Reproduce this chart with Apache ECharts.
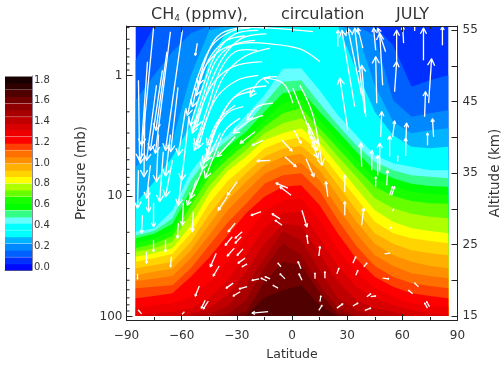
<!DOCTYPE html>
<html><head><meta charset="utf-8">
<style>html,body{margin:0;padding:0;background:#fff}#c{width:504px;height:365px}</style>
<script src="https://cdn.jsdelivr.net/npm/echarts@6/dist/echarts.min.js"></script></head>
<body><div id="c"></div>
<script>
// Latitudes of the data columns
const latitudes=[-85,-75,-65,-55,-45,-35,-25,-15,-5,5,15,25,35,45,55,65,75,85];
// Colour-bar values (ppmv) and colour of each band
const bandValues=[0,.06,.13,.19,.26,.32,.39,.45,.51,.58,.64,.71,.77,.84,.90,.96,1.03,1.09,1.16,1.22,1.29,1.35,1.41,1.48,1.54,1.61,1.67,1.74,1.80];
const bandColors=['#0008ff','#0030ff','#0060ff','#0088ff','#00b4ff','#00ffff','#00ffff','#66ffff','#33ff88','#00ff00','#18ff00','#66ff00','#b0ff00','#ffff00','#ffd400','#ffb000','#ff9000','#ff7000','#ff4000','#ff0000','#ee0000','#d80000','#c00000','#a80000','#900000','#700000','#500000','#300000','#180000'];
// Altitude (km) of the contour lines at each latitude; the ppmv of each is in contourPpmv
const contourPpmv=[.10,.16,.23,.29,.35,.42,.48,.55,.61,.68,.74,.80,.87,.93,1.00,1.06,1.13,1.19,1.25,1.32,1.38,1.45,1.51,1.58,1.64];
const c01=[50.8,56,56,56,56,56,56,56,56,56,56,56,56,55.6,52.9,47.1,48.0,48.7];
const c02=[45.2,48.7,52.0,54.6,56,56,56,56,56,56,56,56,56,54.3,45.2,42.9,43.4,43.8];
const c03=[35.9,38.2,39.6,48.7,55.0,56,56,56,56,56,56,56,55.0,47.3,42.2,40.6,41.0,41.3];
const c04=[30.8,33.8,37.3,41.7,50.8,55.0,56,56,56,56,56,55.6,49.4,43.6,40.3,38.7,38.5,38.7];
const c05=[28.7,30.5,33.5,38.2,44.5,48.0,52.2,55.3,56,56,55.0,52.2,46.6,41.7,38.9,37.5,37.1,37.1];
const c06=[26.8,27.3,29.8,35.2,38.5,40.3,43.1,45.9,49.6,49.7,46.6,43.1,40.3,37.5,36.4,35.9,35.4,35.4];
const c07=[26.3,26.9,28.7,34.0,37.5,39.6,41.7,44.8,47.8,48.0,44.8,41.7,38.9,36.6,35.4,34.7,34.5,34.3];
const c08=[25.9,26.5,27.9,32.6,36.4,38.7,40.8,43.6,46.2,46.6,43.6,40.8,38.0,35.4,34.3,33.5,33.2,33.1];
const c09=[25.2,25.8,27.0,31.7,35.4,37.8,39.9,42.4,44.8,45.4,42.4,39.6,36.8,34.3,33.1,32.4,32.1,31.9];
const c10=[24.5,25.1,26.2,30.5,34.5,37.0,39.1,41.5,43.4,44.1,41.3,38.5,35.7,33.1,31.8,31.1,30.8,30.7];
const c11=[24.0,24.5,25.4,29.3,33.2,36.1,38.2,40.6,42.0,42.7,40.3,37.3,34.5,31.5,30.1,29.3,28.9,28.7];
const c12=[23.3,23.8,24.5,27.7,32.2,35.3,37.3,39.6,40.6,41.3,39.2,36.1,32.9,29.8,28.2,27.3,26.9,26.6];
const c13=[22.6,23.1,23.7,26.6,30.8,33.9,36.1,38.5,39.5,40.1,38.0,34.7,31.5,28.2,26.6,25.9,25.5,25.2];
const c14=[21.7,22.1,22.6,25.4,29.2,32.5,35.0,37.3,38.4,38.8,36.7,33.3,29.8,26.6,25.1,24.2,23.8,23.5];
const c15=[20.7,21.2,21.6,24.2,27.8,31.2,33.8,36.1,37.3,37.7,35.4,31.8,28.2,25.1,23.5,22.6,22.0,21.7];
const c16=[19.9,20.2,20.6,23.1,26.3,29.8,32.4,34.9,36.1,36.4,34.0,30.1,26.5,23.5,22.0,21.0,20.6,20.3];
const c17=[18.9,19.1,19.3,21.7,24.9,28.1,30.7,33.5,34.7,35.0,32.5,28.4,24.8,22.0,20.5,19.6,19.2,18.9];
const c18=[17.5,17.8,18.2,20.5,23.2,26.3,29.4,31.7,33.1,33.3,30.5,26.5,23.0,20.5,19.1,18.2,17.8,17.5];
const c19=[16.1,16.5,16.8,17.7,19.8,22.6,26.3,29.6,31.2,31.5,28.4,24.2,21.2,18.9,17.7,16.8,16.4,16.3];
const c20=[15,15.4,15.6,16.1,17.5,20.0,23.5,27.3,29.4,29.6,25.9,22.0,19.1,17.5,16.5,15.8,15.4,15];
const c21=[15,15,15,15.3,16.1,17.9,21.2,25.1,27.9,27.6,23.7,19.8,17.2,16.1,15.6,15,15,15];
const c22=[15,15,15,15,15.3,16.4,19.3,23.1,26.9,25.6,21.4,17.5,15.8,15.1,15,15,15,15];
const c23=[15,15,15,15,15,15.3,17.2,21.7,25.2,23.5,19.3,16.1,15,15,15,15,15,15];
const c24=[15,15,15,15,15,15,15.6,19.8,22.6,22.1,18.3,15.3,15,15,15,15,15,15];
const c25=[15,15,15,15,15,15,15,17.6,18.6,19.3,16.5,15,15,15,15,15,15,15];
const contours=[c01,c02,c03,c04,c05,c06,c07,c08,c09,c10,c11,c12,c13,c14,c15,c16,c17,c18,c19,c20,c21,c22,c23,c24,c25];
// Circulation arrows: flat lists lat,km,lat,km,... from tail to head
const southDescending=[
[-75.3,55.3,-82.4,36.4],[-66.1,54.8,-74.3,37.8],[-59.6,55.0,-68.8,38.2],[-78.6,50.6,-81.8,38.9],[-83.5,48.0,-82.9,36.8],[-70.5,49.4,-77.0,38.2],[-73.7,47.3,-79.1,36.8],
[-83.5,35.4,-84.0,30.1],[-78,33.1,-78,29.6],[-75.3,30.8,-75.3,27.5],[-81.3,29.1,-81.8,26.6],[-75.3,25.6,-75.3,24.0],[-68.8,25.6,-68.8,24.0],[-79.1,24,-79.1,22.4],[-65.6,23.3,-66.1,21.9],
[-53.7,29.6,-54.2,26.8],[-59.1,30.8,-59.6,27.7],[-61.8,28,-62.3,25.9],[-59.6,35.4,-61.8,30.5],[-48.8,35.4,-55.3,31.5],[-52,34,-56.9,30.5],
[-66.1,40.4,-68.8,34.6],[-72.6,40.4,-73.7,33.8],[-58,43.8,-61.8,37.5],[-65,36.8,-68.8,31.7],[-77,36.1,-79.1,31.5],
[-68,52,-74,41],[-62,47,-66,38],[-80,44,-80.5,34.5],[-70,38,-72,31],[-56,43,-58,38.5,-60,34]];
const curvedStreams=[
[-22.8,55.3,-32.5,54.9,-43.4,52.9,-50.9,48.7,-56.9,43.1],[-18.4,55.0,-30.9,54.5,-40.7,52.0,-48.2,47.3,-55.3,41.7],[-20.1,53.6,-32.5,52.9,-41.7,50.6,-48.2,45.9,-54.2,41.0],
[-19,52.2,-30.9,52.0,-39,49.4,-45.5,44.5,-52.6,38.9],[15.2,50.6,4.3,52.4,-11.9,53.1,-26.6,53.2,-39,52.2,-48.2,49.4,-54.2,44.3],[11.4,54.8,-11.9,55.3,-29.8,55.3,-40.7,54.1,-47.2,50.8,-50.9,47.3],
[-16.3,50.6,-32,49.9,-42.8,47.6,-49.9,43.8,-54.2,40.6],[-18.4,48.7,-29.8,48,-40.7,45.7,-48.2,41.5,-53.1,38.2],[-26.6,44.3,-35.2,43.4,-42.8,40.6,-45.5,38.2,-48.2,36.4],
[-8.1,48.5,-17.3,48,-22.8,45.7],[-10.3,44.8,-19,44.3,-24.4,42.4],[-15.7,43.1,-22.8,42.4,-32,40.6],[0.5,44.8,-4.9,47.6,-15.7,48.3],[-28.2,42.7,-36.3,41,-42.3,37.5,-47.2,34.3],
[4.3,47.3,11.4,43.1,16.3,36.1],[0.5,46.9,7,42.7,13.6,38.2],[8.7,42,13.6,39.2],[-25.5,54.2,-36.3,53.5,-45.5,50.8,-52,45.9],[-30.9,44.5,-40.1,42.4,-46.1,38.9],[-39,40.6,-46.1,36.8],[-30.9,40.1,-40.7,37.3],[-51.5,53.2,-52.6,51.5],
[-14,54.5,-28,53.8,-38,51,-46,46.5,-52,41.5],[-12,52.5,-26,51.3,-37,48.6,-45,43.6,-51,38.5],[-14,47.2,-27,46.5,-37,43.8,-44,39.5,-49,35.5],[-20,46.5,-32,45.5,-40,42,-46,37.5]];
const domeArrows=[
[-15.7,39.6,-21.7,38.9],[-11.9,36.8,-19,36.7],[-3.8,37.3,2.2,35.9],[1.1,41,4.9,39.2],[-5.4,39.6,0,38.1],[7.6,37,11.9,34.5],[8.7,41,14.1,37.1],[-20.1,40.8,-28.2,39.2],[-29.8,33.8,-35.2,31.9],[-35.2,31.7,-40.1,29.8],
[-30.9,28,-34.7,26.8],[-32.5,26.1,-36.3,24.9],[-27.1,26.8,-30.9,25.9],[-27.6,26.1,-30.9,25.2],[-31.4,24.5,-35.2,23.4],[-26.6,24.4,-29.8,23.5],[-25.5,23.1,-29.3,22.4],[-24.4,22.3,-27.1,21.9],
[-41.2,23.8,-44.4,21.9],[-39.6,22,-42.8,20.6],[-32,19.6,-35.8,18.9],[-28.2,18.4,-32,17.8],[-24.4,19.1,-28.7,18.8],[-50.4,19.2,-52.6,17.8],[-47.2,17.2,-49.3,16.1],[-45.5,17.1,-48.2,16],
[-16.8,29.6,-22.2,29.1],[-17.9,20.2,-21.7,20],[-13.6,19.9,-16.8,20.3],[-11.9,20.2,-14.6,20.5],[-7.6,18.9,-10.3,19.3],[-6,21.9,-7.6,22.4],[-3.8,20.2,-6.5,20.9],[-6.5,28.6,-10.8,29.3],[-5.4,27.7,-9.2,28.4],[-2.2,32.9,-8.7,33.6],[-0.5,31.9,-6.5,33.1],
[4.9,21.6,3.3,22.6],[5.4,20,3.8,20.9],[12.5,20.2,12.5,21],[5.4,29.8,8.1,27.5],[8.7,25.1,8.1,26.3],[-13,15.6,-21.7,15.4],[-58.5,15.6,-59.6,15.3],[-81.8,15.3,-83.5,15.8],[-84,20.9,-84,20.2]];
const northLower=[
[19.5,31.7,18.4,33.8],[28.7,32.4,28.7,34.7],[28.7,29.1,28.7,31],[37.9,27.7,39,30.1],[45.5,33.1,45.5,34.5],[51.5,33.3,52,35.4],[53.1,31.9,54.7,33.1],[54.2,31.9,55.8,33.1],[54.7,29.7,55.3,30],[53.1,27.2,54.2,27.5],
[50.4,23.7,53.1,23.8],[33.1,22.4,34.7,23.3],[34.7,20.7,35.8,21.4],[39,21.9,40.7,22.4],[49.3,20.3,52.6,20.2],[68.8,19.1,66.7,19.6],[65.6,18.1,63.4,18.6],[40.7,17.7,42.8,18.1],[42.8,17.7,45.5,17.8],[73.7,16.1,72.1,16.8],[74.8,16.3,73.2,17],
[33.1,16.4,35.8,16.8],[24.4,16.1,27.6,16.7],[39.6,15.8,42.8,16.1],[14.6,15.8,16.3,16.5],[15.2,17,15.7,17.8],[24.4,20.9,25.5,21.7],[17.9,20.3,17.9,21.2],[14.6,23.4,15.2,24.7]];
const northAscending=[
[56.9,50.6,56.9,55],[55.8,46.4,56.9,50.6],[74.3,44.8,75.9,51],[72.1,42.9,72.6,46.4],[46.1,44.8,45.5,51.3],[40.1,42.9,37.9,50.1],[30.4,41,26,48.3],[48.2,40.1,48.8,43.6],[77,40.1,76.4,42.6],[61.8,38.7,62.3,42],[54.7,40.1,55.8,42.3],[73.7,38.9,73.7,40.6],
[53.1,37.3,53.1,40.2],[61.8,37.4,61.8,39.9],[37.9,35.9,37.4,39.2],[47.7,35.4,47.7,39.2],[43.4,35.4,43.4,38.2],[46.6,34.7,46.6,37.5],[57.5,36.6,57.5,37.4],
[24.9,52.7,24.9,55],[34.1,44.3,27.1,55],[37.9,45.9,30.4,55.3],[39.6,43.4,34.1,55.3],[38.5,52.5,35.8,55.3],[45.5,52.2,44.4,55.3],[50.9,52,46.6,55.3],[49.3,47.3,47.7,54.6],[60.7,53.2,60.2,55.5],[71.5,50.8,71.5,55.3],[81.8,52.9,81.8,55.5],[66.7,54.9,66.7,55.5]];
const allArrows=[...southDescending,...curvedStreams,...domeArrows,...northLower,...northAscending];
// Axis ticks
const latTicks={min:-90,max:90,step:30};
const altLabels=[15,25,35,45,55];
const altTicks=[15,20,25,30,35,40,45,50,55];
const pressureLabels=[1,10,100];
const pressureMinor=[.4,.5,.6,.7,.8,.9,2,3,4,5,6,7,8,9,20,30,40,50,60,70,80,90];
const titleParts=['CH','4',' (ppmv),','circulation','JULY'];
const names={x:'Latitude',p:'Pressure (mb)',a:'Altitude (km)'};

const FONT='"DejaVu Sans"',INK='#333',KMTOP=55.6;
const chart=echarts.init(document.getElementById('c'),null,{renderer:'canvas'});
function bandPolygon(k,api){
  const a=contours[k],top=[];
  latitudes.forEach((lat,i)=>top.push(api.coord([lat,Math.min(a[i],KMTOP)])));
  top.push(api.coord([85,15]),api.coord([-85,15]));
  return {type:'polygon',shape:{points:top},style:{fill:bandColors[k+2]},silent:true};
}
function arrowShape(pts){
  const n=pts.length,h=pts[n-1],p=pts[n-2];
  let total=0;for(let i=1;i<n;i++)total+=Math.hypot(pts[i][0]-pts[i-1][0],pts[i][1]-pts[i-1][1]);
  const L=Math.min(7.5,total*.2),ang=Math.atan2(h[1]-p[1],h[0]-p[0]),s=.5;
  return [[h[0]-L*Math.cos(ang-s),h[1]-L*Math.sin(ang-s)],h,[h[0]-L*Math.cos(ang+s),h[1]-L*Math.sin(ang+s)]];
}
chart.setOption({
 animation:false,backgroundColor:'#fff',
 title:[
  {left:151,top:7,padding:0,text:'{a|'+titleParts[0]+'}{s|'+titleParts[1]+'}{a|'+titleParts[2]+'}',textStyle:{fontWeight:'normal',rich:{a:{fontFamily:FONT,fontSize:16,fontWeight:'normal',color:INK},s:{fontFamily:FONT,fontSize:9,fontWeight:'normal',color:INK,verticalAlign:'bottom',padding:[6,0,0,0]}}}},
  {left:281,top:7,padding:0,text:titleParts[3],textStyle:{fontFamily:FONT,fontSize:16,fontWeight:'normal',color:INK}},
  {left:396,top:7,padding:0,text:titleParts[4],textStyle:{fontFamily:FONT,fontSize:16,fontWeight:'normal',color:INK}}
 ],
 grid:[{left:126.5,width:331,top:26,height:294,outerBoundsMode:'none'},{left:5,width:27,top:76,height:194,outerBoundsMode:'none'}],
 xAxis:[
  {gridIndex:0,type:'value',min:latTicks.min,max:latTicks.max,interval:latTicks.step,position:'bottom',z:5,
   name:names.x,nameLocation:'middle',nameGap:28,nameTextStyle:{fontFamily:FONT,fontSize:12.5,color:INK},
   axisLine:{onZero:false,lineStyle:{color:'#222',width:1}},splitLine:{show:false},
   axisTick:{inside:true,length:6,lineStyle:{color:'#222'}},minorTick:{show:true,splitNumber:2,length:3,lineStyle:{color:'#222'}},
   axisLabel:{fontFamily:FONT,fontSize:12,color:INK,margin:10,showMinLabel:true,showMaxLabel:true,formatter:v=>String(v).replace('-','\u2212')}},
  {gridIndex:0,type:'value',min:latTicks.min,max:latTicks.max,interval:latTicks.step,position:'top',z:5,
   axisLine:{onZero:false,lineStyle:{color:'#222',width:1}},splitLine:{show:false},
   axisTick:{inside:true,length:6,lineStyle:{color:'#222'}},minorTick:{show:true,splitNumber:2,length:3,lineStyle:{color:'#222'}},axisLabel:{show:false}},
  {gridIndex:1,type:'value',min:0,max:1,show:true,axisLine:{onZero:false,lineStyle:{color:'#86864a'}},axisTick:{show:false},axisLabel:{show:false},splitLine:{show:false}}
 ],
 yAxis:[
  {gridIndex:0,type:'log',logBase:10,min:.388,max:106.9,inverse:true,position:'left',z:5,
   name:names.p,nameLocation:'middle',nameGap:31,nameRotate:90,nameTextStyle:{fontFamily:FONT,fontSize:13.5,color:INK},
   axisLine:{show:true,onZero:false,lineStyle:{color:'#222',width:1}},splitLine:{show:false},minorTick:{show:false},
   axisTick:{show:true,inside:true,length:6,customValues:pressureLabels,lineStyle:{color:'#222'}},
   axisLabel:{fontFamily:FONT,fontSize:12,color:INK,margin:4,customValues:pressureLabels,formatter:v=>String(Math.round(v))}},
  {gridIndex:0,type:'value',min:14.44,max:KMTOP,position:'right',z:5,
   name:names.a,nameLocation:'middle',nameGap:24,nameRotate:90,nameTextStyle:{fontFamily:FONT,fontSize:13.5,color:INK},
   axisLine:{show:true,onZero:false,lineStyle:{color:'#222',width:1}},splitLine:{show:false},
   axisTick:{show:true,inside:true,length:6,customValues:altTicks,lineStyle:{color:'#222'}},
   axisLabel:{fontFamily:FONT,fontSize:12,color:INK,margin:5,customValues:altLabels,formatter:v=>String(Math.round(v))}},
  {gridIndex:1,type:'value',min:-.029,max:1.8385,interval:.2,position:'right',
   axisLine:{show:true,onZero:false,lineStyle:{color:'#88889c'}},axisTick:{show:false},splitLine:{show:false},
   axisLabel:{fontFamily:FONT,fontSize:10,color:INK,margin:2,customValues:[0,.2,.4,.6,.8,1,1.2,1.4,1.6,1.8],formatter:v=>v.toFixed(1)}}
 ],
 series:[
  {type:'custom',xAxisIndex:0,yAxisIndex:1,z:1,silent:true,clip:false,
   data:contourPpmv.map((v,i)=>[i,v]),
   renderItem:(p,api)=>{
     const k=api.value(0),poly=bandPolygon(k,api);
     if(k>0)return poly;
     const A=api.coord([-85,KMTOP]),B=api.coord([85,15]);
     return {type:'group',children:[{type:'rect',shape:{x:A[0],y:A[1],width:B[0]-A[0],height:B[1]-A[1]},style:{fill:bandColors[1]},silent:true},poly]};
   }},
  {type:'custom',xAxisIndex:0,yAxisIndex:1,z:2,silent:true,clip:false,
   data:allArrows.map((a,i)=>[i]),
   renderItem:(p,api)=>{
     const a=allArrows[api.value(0)],pts=[];
     for(let i=0;i<a.length;i+=2)pts.push(api.coord([a[i],a[i+1]]));
     const st={fill:null,stroke:'#fff',lineWidth:1.3,lineJoin:'round'};
     return {type:'group',children:[
       {type:'polyline',shape:{points:pts,smooth:pts.length>2?.35:0},style:st,silent:true},
       {type:'polyline',shape:{points:arrowShape(pts)},style:st,silent:true}]};
   }},
  {type:'custom',xAxisIndex:0,yAxisIndex:0,z:6,silent:true,clip:false,
   data:pressureMinor.map(v=>[-90,v]),
   renderItem:(p,api)=>{
     const c=api.coord([-90,api.value(1)]);
     return {type:'line',shape:{x1:c[0],y1:c[1],x2:c[0]+3,y2:c[1]},style:{stroke:'#222',lineWidth:1},silent:true};
   }},
  {type:'custom',xAxisIndex:2,yAxisIndex:2,z:1,silent:true,clip:false,
   data:bandValues.map((v,i)=>[i,v]),
   renderItem:(p,api)=>{
     const i=api.value(0),v=api.value(1),A=api.coord([0,v+.0335]),B=api.coord([1,v-.0335]);
     return {type:'rect',shape:{x:A[0],y:A[1],width:B[0]-A[0],height:B[1]-A[1]},style:{fill:bandColors[i]},silent:true};
   }}
 ]
});
</script></body></html>
